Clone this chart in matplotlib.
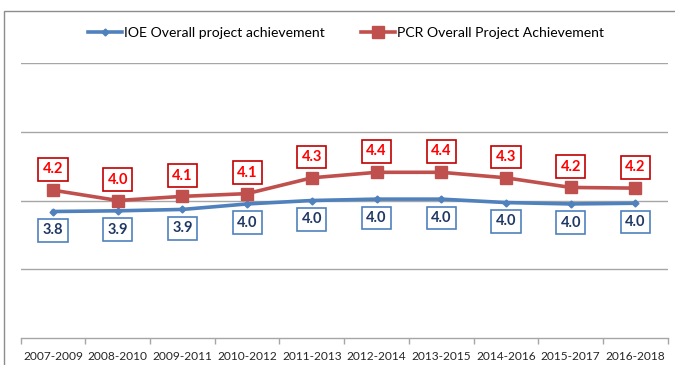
import matplotlib
matplotlib.use("Agg")
import matplotlib.pyplot as plt
from matplotlib.patches import Rectangle
from matplotlib.lines import Line2D

plt.rcParams['font.family'] = ['Lato', 'DejaVu Sans']

periods = ["2007-2009", "2008-2010", "2009-2011", "2010-2012", "2011-2013",
           "2012-2014", "2013-2015", "2014-2016", "2015-2017", "2016-2018"]
ioe = [3.84, 3.85, 3.87, 3.95, 4.00, 4.02, 4.02, 3.97, 3.95, 3.96]
pcr = [4.15, 4.00, 4.06, 4.10, 4.33, 4.41, 4.41, 4.33, 4.19, 4.18]
ioe_name = "IOE Overall project achievement"
pcr_name = "PCR Overall Project Achievement"

blue = "#4F81BD"
red = "#C0504D"
grid_c = "#A6A6A6"

fig = plt.figure(figsize=(6.75, 3.65), dpi=100)
ax = fig.add_axes([20.7 / 675, 1 - 338 / 365, (667.7 - 20.7) / 675, (338 - 63) / 365])

x = list(range(len(periods)))
ax.plot(x, ioe, color=blue, lw=2.6, marker="D", ms=3.5, zorder=3)
ax.plot(x, pcr, color=red, lw=2.6, marker="s", ms=8, zorder=3)

for xi, v in zip(x, pcr):
    ax.annotate(f"{v:.1f}", (xi, v), xytext=(0, 15), textcoords="offset points",
                ha="center", va="center", color="#FF0000", fontsize=10.5, fontweight="bold",
                bbox=dict(boxstyle="square,pad=0.3", fc="white", ec="#C00000", lw=1.2),
                zorder=5)
for xi, v in zip(x, ioe):
    ax.annotate(f"{v:.1f}", (xi, v), xytext=(0, -13.5), textcoords="offset points",
                ha="center", va="center", color="#1F3864", fontsize=10.5, fontweight="bold",
                bbox=dict(boxstyle="square,pad=0.3", fc="white", ec=blue, lw=1.2),
                zorder=5)

ax.set_xlim(-0.5, len(periods) - 0.5)
ax.set_ylim(2, 6)
ax.set_yticks([3, 4, 5, 6])
ax.yaxis.grid(True, color=grid_c, lw=1)
ax.tick_params(axis="y", left=False, labelleft=False)
ax.set_axisbelow(True)

ax.set_xticks(x)
ax.set_xticklabels(periods, fontsize=8.6, color="#262626")
ax.set_xticks([i - 0.5 for i in range(len(periods) + 1)], minor=True)
ax.tick_params(axis="x", which="major", length=0, pad=9)
ax.tick_params(axis="x", which="minor", length=4, color=grid_c, width=1)

for s in ["left", "right", "top"]:
    ax.spines[s].set_visible(False)
ax.spines["bottom"].set_color(grid_c)
ax.spines["bottom"].set_linewidth(1)

handles = [Line2D([], [], color=blue, lw=2.6, marker="D", ms=3.5),
           Line2D([], [], color=red, lw=2.6, marker="s", ms=8)]
fig.legend(handles, [ioe_name, pcr_name], loc="center", bbox_to_anchor=(346 / 675, 1 - 33 / 365),
           ncol=2, frameon=False, fontsize=10.1, handlelength=2.4, handletextpad=0.15,
           columnspacing=2.6)

fig.patches.append(Rectangle((4 / 675, -0.1), 1.2, 1.1 - 11 / 365,
                             transform=fig.transFigure, fill=False, ec="#8C8C8C", lw=1))

fig.savefig("out.png", dpi=100)
